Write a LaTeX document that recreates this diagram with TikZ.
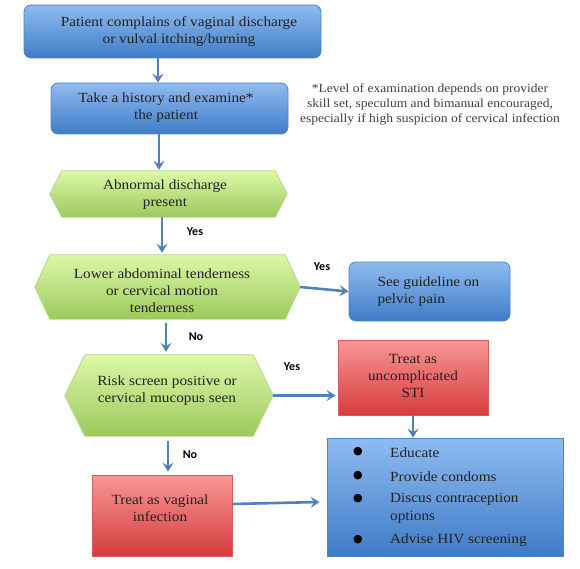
\documentclass[tikz,border=0pt]{standalone}
\usepackage{fontspec}
\setmainfont{Liberation Serif}[FakeStretch=1.09]
\newfontfamily\yesfont{Carlito}
\newfontfamily\dotfont{DejaVu Sans}
\usetikzlibrary{arrows.meta,backgrounds,calc}
\definecolor{bluetop}{HTML}{8FBBF0}
\definecolor{bluebot}{HTML}{3F7CC6}
\definecolor{blueedge}{HTML}{4F84C4}
\definecolor{greentop}{HTML}{DCF8A8}
\definecolor{greenbot}{HTML}{9CC95B}
\definecolor{greenedge}{HTML}{B3D88A}
\definecolor{redtop}{HTML}{F99795}
\definecolor{redbot}{HTML}{D53C3D}
\definecolor{rededge}{HTML}{D9585A}
\definecolor{arrowc}{HTML}{4F81BD}
\definecolor{txt}{HTML}{222222}
\definecolor{notetxt}{HTML}{3F3F3F}
\tikzset{
  boxtext/.style={text=txt, font=\fontsize{14}{17}\selectfont, align=center},
  bluebox/.style={boxtext, draw=blueedge, top color=bluetop, bottom color=bluebot, rounded corners=7pt, line width=0.8pt, inner sep=0pt},
  bluesq/.style={boxtext, draw=blueedge, top color=bluetop, bottom color=bluebot, line width=0.8pt, inner sep=0pt},
  redbox/.style={boxtext, draw=rededge, top color=redtop, bottom color=redbot, line width=0.8pt, inner sep=0pt},
  hexframe/.style={inner sep=0pt, draw=none},
  hexfill/.style={draw=greenedge, top color=greentop, bottom color=greenbot, line width=0.8pt},
  arr/.style={draw=arrowc, line width=2.6pt, -{Stealth[length=9pt,width=11pt,inset=3.5pt]}},
  lbl/.style={font=\yesfont\bfseries\fontsize{12}{14}\selectfont, text=black, inner sep=0pt},
  itemtext/.style={text=txt, font=\fontsize{14}{17.5}\selectfont, anchor=west, inner sep=0pt, align=left},
  bulletdot/.style={font=\dotfont\fontsize{11}{11}\selectfont, inner sep=0pt, text=black}
}
\newcommand{\hexpath}[2]{%
  \shade[hexfill] (#1.west) -- ([xshift=#2]#1.north west) -- ([xshift=-#2]#1.north east) -- (#1.east) -- ([xshift=-#2]#1.south east) -- ([xshift=#2]#1.south west) -- cycle;}
\begin{document}
\begin{tikzpicture}[x=1pt,y=-1pt]
\useasboundingbox (0,0) rectangle (580,569);

% boxes
\node[bluebox, minimum width=297pt, minimum height=53pt] (b1) at (172.5,31.5) {};
\node[boxtext] (b1t) at (179,31.5) {Patient complains of vaginal discharge\\or vulval itching/burning};
\node[bluebox, minimum width=237pt, minimum height=51pt] (b2) at (169.5,108.5) {};
\node[boxtext] (b2t) at (166,108) {Take a history and examine*\\the patient};

\node[text=notetxt, font=\fontsize{12.4}{15}\selectfont, align=center] (note) at (430,104.5)
  {*Level of examination depends on provider\\skill set, speculum and bimanual encouraged,\\especially if high suspicion of cervical infection};

% hexagons
\node[hexframe, minimum width=237pt, minimum height=46pt] (h1) at (168.5,194) {};
\node[hexframe, minimum width=265pt, minimum height=64pt] (h2) at (167.5,287) {};
\node[hexframe, minimum width=208pt, minimum height=81pt] (h3) at (169,395.5) {};
\begin{scope}[on background layer]
  \hexpath{h1}{12pt}
  \hexpath{h2}{15pt}
  \hexpath{h3}{20pt}
\end{scope}
\node[boxtext] (h1t) at (165,195) {Abnormal discharge\\present};
\node[boxtext] (h2t) at (162,290.5) {Lower abdominal tenderness\\or cervical motion\\tenderness};
\node[boxtext] (h3t) at (167,391) {Risk screen positive or\\cervical mucopus seen};

% right side
\node[bluebox, minimum width=161pt, minimum height=59pt] (gl) at (429.5,291.5) {};
\node[boxtext, align=left, anchor=west] (glt) at (374,291.5) {See guideline on\\pelvic pain};
\node[redbox, minimum width=150pt, minimum height=75pt] (sti) at (413,377.5) {};
\node[boxtext] (stit) at (413,376) {Treat as\\uncomplicated\\STI};
\node[redbox, minimum width=140pt, minimum height=81pt] (vag) at (162,515.5) {};
\node[boxtext] (vagt) at (160,508) {Treat as vaginal\\infection};
\node[bluesq, minimum width=236pt, minimum height=118pt] (bul) at (445,497) {};

\node[bulletdot] (d1) at (358,451.5) {●};
\node[bulletdot] (d2) at (358,475.5) {●};
\node[bulletdot] (d3) at (358,498.5) {●};
\node[bulletdot] (d4) at (358,539.5) {●};
\node[itemtext] (i1) at (390,452.5) {Educate};
\node[itemtext] (i2) at (390,476.5) {Provide condoms};
\node[itemtext] (i3) at (390,508.5) {Discus contraception\\options};
\node[itemtext] (i4) at (390,540.5) {Advise HIV screening};

% labels
\node[lbl] (y1) at (195,232) {Yes};
\node[lbl] (y2) at (322,267) {Yes};
\node[lbl] (n1) at (196,337) {No};
\node[lbl] (y3) at (292,367) {Yes};
\node[lbl] (n2) at (190,455) {No};

% connectors
\draw[arr] (b1.south -| 158,0) -- (b2.north -| 158,0);
\draw[arr] (b2.south -| 159,0) -- ([yshift=1pt]h1.north -| 159,0);
\draw[arr] (h1.south -| 162,0) -- ([yshift=2pt]h2.north -| 162,0);
\draw[arr] ([yshift=-4pt]h2.south -| 166,0) -- ([yshift=3pt]h3.north -| 166,0);
\draw[arr] ([yshift=-5pt]h3.south -| 168,0) -- ([yshift=3pt]vag.north -| 168,0);
\draw[arr] (h2.east) -- (gl.west);
\draw[arr] (h3.east) -- ([xshift=-2pt]sti.west |- h3.east);
\draw[arr] (sti.south) -- (bul.north -| sti.south);
\draw[arr] (vag.east |- 0,504) -- ([xshift=-7pt]bul.west |- 0,502);
\end{tikzpicture}
\end{document}
